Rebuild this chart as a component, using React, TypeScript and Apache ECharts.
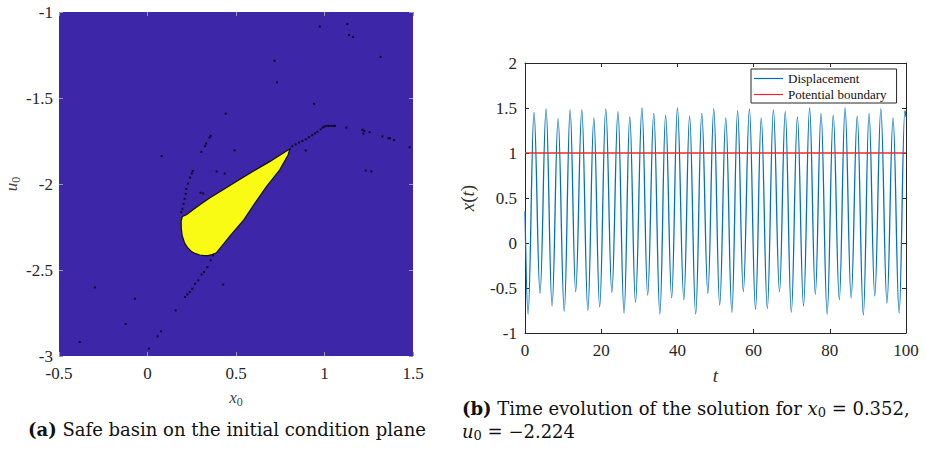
import React, { useEffect, useRef } from "react";
import * as echarts from "echarts";

// ---------- (a) Safe basin on the initial condition plane ----------
// outline of the safe (yellow) region, clockwise from the tip
const basinX0 = [0.805, 0.690, 0.590, 0.502, 0.420, 0.351, 0.300, 0.257, 0.220, 0.197, 0.190, 0.191, 0.196, 0.210, 0.228, 0.248, 0.272, 0.295, 0.320, 0.342, 0.365, 0.389, 0.464, 0.544, 0.608, 0.672, 0.747, 0.794];
const basinU0 = [-1.795, -1.870, -1.930, -1.986, -2.038, -2.082, -2.118, -2.150, -2.179, -2.189, -2.215, -2.260, -2.300, -2.344, -2.372, -2.392, -2.405, -2.413, -2.416, -2.416, -2.410, -2.400, -2.305, -2.208, -2.110, -2.015, -1.918, -1.831];

// isolated black points (basin boundary / escaping initial conditions)
const dotX0 = [
  0.818, 0.837, 0.856, 0.875, 0.894, 0.912, 0.931, 0.946, 0.960, 0.978, 0.990, 1.000, 1.012, 1.025, 1.038, 1.050, 1.059,
  0.357, 0.351, 0.331, 0.325, 0.304, 0.255, 0.250, 0.240, 0.229, 0.219, 0.216, 0.210, 0.204, 0.197, 0.191,
  0.370, 0.357, 0.338, 0.319, 0.306, 0.287, 0.268, 0.253, 0.238, 0.225, 0.212,
  0.973, 1.129, 1.138, 1.161, 1.317, 0.718, 0.732, 0.941, 0.442, 0.080, 0.492, 0.894, 1.123, 1.214, 1.225, 1.221, 1.255,
  1.327, 1.361, 1.370, 1.393, 1.481, 1.233, 1.265, 0.391, 0.436, 0.300, 0.315, 0.428, -0.297, -0.071, 0.159, -0.123,
  0.076, 0.057, 0.008, -0.383
];
const dotU0 = [
  -1.780, -1.770, -1.759, -1.750, -1.740, -1.728, -1.716, -1.706, -1.697, -1.682, -1.672, -1.665, -1.662, -1.662, -1.662, -1.662, -1.662,
  -1.720, -1.730, -1.765, -1.780, -1.813, -1.925, -1.939, -1.962, -1.997, -2.028, -2.057, -2.086, -2.115, -2.144, -2.164,
  -2.415, -2.444, -2.483, -2.512, -2.526, -2.560, -2.580, -2.609, -2.628, -2.642, -2.657,
  -1.085, -1.070, -1.134, -1.145, -1.261, -1.283, -1.409, -1.534, -1.591, -1.838, -1.805, -1.805, -1.672, -1.685, -1.691, -1.707, -1.699,
  -1.724, -1.734, -1.734, -1.745, -1.786, -1.922, -1.927, -1.927, -1.939, -2.051, -2.055, -2.584, -2.601, -2.667, -2.735, -2.814,
  -2.857, -2.886, -2.957, -2.919
];

// ---------- (b) Time evolution ----------
// start, then alternating trough / peak, then end of record
const dispT = [
  0,
  0.8, 2.37, 3.95, 5.53, 7.1, 8.68, 10.3, 11.84, 13.3, 14.91, 16.5, 18.07, 19.6, 21.2, 22.8, 24.4,
  26.0, 27.5, 29.0, 30.7, 32.2, 33.8, 35.4, 36.9, 38.5, 40.0, 41.7, 43.2, 44.8, 46.4, 48.0, 49.55,
  51.1, 52.7, 54.3, 55.8, 57.3, 58.9, 60.5, 62.0, 63.6, 65.2, 66.8, 68.3, 69.9, 71.5, 73.1, 74.7,
  76.2, 77.7, 79.3, 80.9, 82.5, 84.0, 85.6, 87.2, 88.8, 90.3, 91.8, 93.4, 95.0, 96.6, 98.2, 99.7,
  100
];
const dispX = [
  0.352,
  -0.79, 1.45, -0.56, 1.49, -0.70, 1.38, -0.76, 1.48, -0.54, 1.48, -0.75, 1.39, -0.71, 1.49, -0.55, 1.46,
  -0.78, 1.40, -0.66, 1.50, -0.58, 1.44, -0.79, 1.42, -0.61, 1.50, -0.63, 1.41, -0.79, 1.44, -0.56, 1.49,
  -0.69, 1.39, -0.77, 1.47, -0.54, 1.49, -0.74, 1.39, -0.73, 1.48, -0.54, 1.46, -0.77, 1.40, -0.70, 1.50,
  -0.57, 1.44, -0.79, 1.42, -0.63, 1.50, -0.61, 1.41, -0.80, 1.44, -0.59, 1.49, -0.67, 1.39, -0.78, 1.47,
  1.40
];
const boundaryT = [0, 100];
const boundaryX = [1, 1];

const seriesNames = ["Displacement", "Potential boundary"];
const captionA = "Safe basin on the initial condition plane";
const captionB1 = "Time evolution of the solution for";
const captionX0 = "0.352";
const captionU0 = "\u22122.224";

const SERIF = "'Liberation Serif', 'Times New Roman', serif";
const CAP = "'DejaVu Serif', serif";
const TICK = "#262626";

// math label: italic letters, upright digits, subscript pushed down by top padding
const mathRich = (size: number, font: string, color: string) => ({
  i: { fontFamily: font, fontStyle: "italic", fontSize: size, color, fill: color, lineHeight: size + 4 },
  n: { fontFamily: font, fontSize: size, color, fill: color, lineHeight: size + 4 },
  t: { fontFamily: font, fontSize: size, color, fill: color, lineHeight: size + 4 },
  b: { fontFamily: font, fontSize: size, fontWeight: "bold", color, fill: color, lineHeight: size + 4 },
  s: {
    fontFamily: font, fontSize: Math.round(size * 0.7), color, fill: color,
    lineHeight: Math.round(size * 0.5), padding: [Math.round(size * 0.5), 0, 0, 0],
  },
});

export default function App() {
  const ref = useRef<HTMLDivElement>(null);
  useEffect(() => {
    if (!ref.current) return;
    const chart = echarts.init(ref.current, null, { renderer: "svg" });

    const frameTick = (color: string) => ({ show: true, inside: true, length: 4, lineStyle: { color } });
    const label = (margin: number) => ({ show: true, margin, color: TICK, fontFamily: SERIF, fontSize: 17 });
    const frameLine = { show: true, onZero: false, lineStyle: { color: TICK, width: 1 } };
    const noLine = { show: false, onZero: false };

    const option: any = {
      animation: false,
      backgroundColor: "#ffffff",
      grid: [
        { left: 59, top: 12, width: 354, height: 344, show: true, backgroundColor: "#3E26A8", borderWidth: 0 },
        { left: 525, top: 63, width: 381, height: 270 },
      ],
      legend: {
        data: seriesNames,
        orient: "vertical",
        left: 751,
        top: 69,
        padding: [2, 10, 1, 3],
        itemGap: 1,
        itemWidth: 29,
        itemHeight: 1.2,
        icon: "rect",
        backgroundColor: "#ffffff",
        borderColor: "#262626",
        borderWidth: 1,
        borderRadius: 0,
        textStyle: { fontFamily: SERIF, fontSize: 13, color: "#111", lineHeight: 15 },
      },
      xAxis: [
        {
          gridIndex: 0, type: "value", min: -0.5, max: 1.5, interval: 0.5, position: "bottom",
          axisLine: noLine, axisTick: frameTick("#9a9a9a"), splitLine: { show: false },
          axisLabel: label(9),
          name: "{i|x}{s|0}", nameLocation: "middle", nameGap: 30,
          nameTextStyle: { rich: mathRich(17, SERIF, "#444") },
        },
        {
          gridIndex: 0, type: "value", min: -0.5, max: 1.5, interval: 0.5, position: "top",
          axisLine: noLine, axisTick: frameTick("#9a9a9a"), splitLine: { show: false },
          axisLabel: { show: false },
        },
        {
          gridIndex: 1, type: "value", min: 0, max: 100, interval: 20, position: "bottom",
          axisLine: frameLine, axisTick: frameTick(TICK),
          splitLine: { show: false }, axisLabel: label(9),
          name: "{i|t}", nameLocation: "middle", nameGap: 31,
          nameTextStyle: { rich: mathRich(19, SERIF, "#333") },
        },
        {
          gridIndex: 1, type: "value", min: 0, max: 100, interval: 20, position: "top",
          axisLine: frameLine, axisTick: frameTick(TICK),
          splitLine: { show: false }, axisLabel: { show: false },
        },
      ],
      yAxis: [
        {
          gridIndex: 0, type: "value", min: -3, max: -1, interval: 0.5, position: "left",
          axisLine: noLine, axisTick: frameTick("#9a9a9a"), splitLine: { show: false },
          axisLabel: label(6),
          name: "{i|u}{s|0}", nameLocation: "middle", nameGap: 33, nameRotate: 90,
          nameTextStyle: { rich: mathRich(17, SERIF, "#444") },
        },
        {
          gridIndex: 0, type: "value", min: -3, max: -1, interval: 0.5, position: "right",
          axisLine: noLine, axisTick: frameTick("#9a9a9a"), splitLine: { show: false },
          axisLabel: { show: false },
        },
        {
          gridIndex: 1, type: "value", min: -1, max: 2, interval: 0.5, position: "left",
          axisLine: frameLine, axisTick: frameTick(TICK),
          splitLine: { show: false }, axisLabel: label(8),
          name: "{i|x}{n|(}{i|t}{n|)}", nameLocation: "middle", nameGap: 46, nameRotate: 90,
          nameTextStyle: { rich: mathRich(19, SERIF, "#333") },
        },
        {
          gridIndex: 1, type: "value", min: -1, max: 2, interval: 0.5, position: "right",
          axisLine: frameLine, axisTick: frameTick(TICK),
          splitLine: { show: false }, axisLabel: { show: false },
        },
      ],
      series: [
        {
          type: "custom",
          name: "Safe basin",
          xAxisIndex: 0,
          yAxisIndex: 0,
          data: basinX0.map((x, i) => [x, basinU0[i]]),
          renderItem: (params: any, api: any) => {
            if (params.dataIndex !== 0) return { type: "group", children: [] };
            const pts = basinX0.map((x, i) => api.coord([x, basinU0[i]]));
            return {
              type: "polygon",
              shape: { points: pts },
              style: { fill: "#F9FB15", stroke: "#111111", lineWidth: 1.2 },
            };
          },
          z: 2,
        },
        {
          type: "scatter",
          name: "Boundary points",
          xAxisIndex: 0,
          yAxisIndex: 0,
          symbol: "rect",
          symbolSize: 2,
          itemStyle: { color: "#000000" },
          data: dotX0.map((x, i) => [x, dotU0[i]]),
          z: 3,
        },
        {
          type: "line",
          name: seriesNames[0],
          xAxisIndex: 2,
          yAxisIndex: 2,
          data: dispT.map((t, i) => [t, dispX[i]]),
          smooth: 0.4,
          smoothMonotone: "x",
          symbol: "none",
          color: "#0072BD",
          lineStyle: { color: "#0072BD", width: 1.3 },
          z: 3,
        },
        {
          type: "line",
          name: seriesNames[1],
          xAxisIndex: 2,
          yAxisIndex: 2,
          data: boundaryT.map((t, i) => [t, boundaryX[i]]),
          symbol: "none",
          color: "#EE2A2A",
          lineStyle: { color: "#EE2A2A", width: 1.4 },
          z: 4,
        },
      ],
      graphic: [
        {
          type: "text",
          left: 28,
          top: 420,
          style: {
            text: "{b|(a)}{t| " + captionA + "}",
            fontFamily: CAP,
            fontSize: 18,
            fill: "#111",
            rich: mathRich(18, CAP, "#111"),
          },
        },
        {
          type: "text",
          left: 462,
          top: 397,
          style: {
            text: "{b|(b)}{t| " + captionB1 + " }{i|x}{s|0}{t| = " + captionX0 + ",}",
            fontFamily: CAP,
            fontSize: 18,
            fill: "#111",
            rich: mathRich(18, CAP, "#111"),
          },
        },
        {
          type: "text",
          left: 462,
          top: 420,
          style: {
            text: "{i|u}{s|0}{t| = " + captionU0 + "}",
            fontFamily: CAP,
            fontSize: 18,
            fill: "#111",
            rich: mathRich(18, CAP, "#111"),
          },
        },
      ],
    };

    chart.setOption(option);
    return () => chart.dispose();
  }, []);

  return (
    <div
      ref={ref}
      style={{ position: "absolute", left: 0, top: 0, width: 926, height: 449, background: "#fff" }}
    />
  );
}
